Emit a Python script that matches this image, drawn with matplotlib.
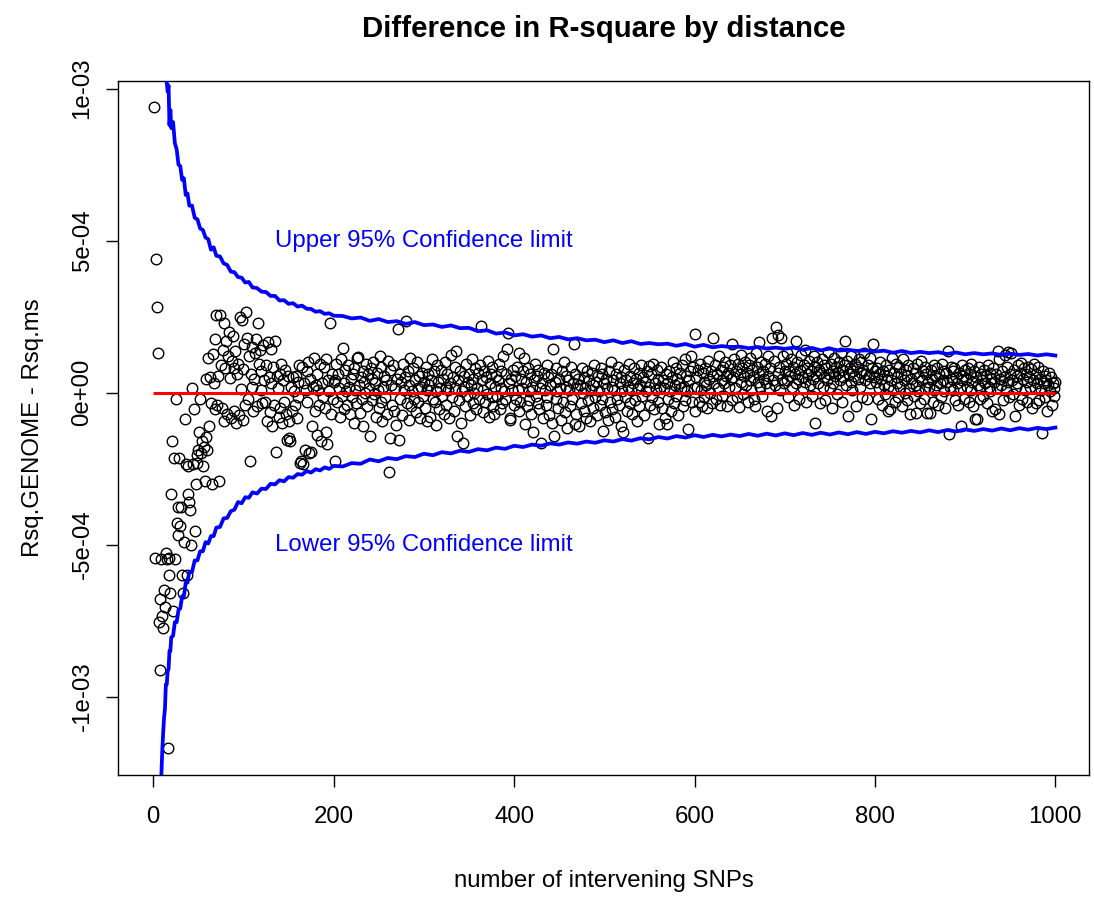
import numpy as np
import matplotlib
matplotlib.use("Agg")
import matplotlib.pyplot as plt

plt.rcParams['font.family'] = ['Liberation Sans', 'DejaVu Sans']

# difference in r-square (units of 1e-6), one value per distance 1..1000
rsq_diff = [
    940, -543, 440, 280, 130, -755, -912, -680, -548, -735,
    -775, -650, -705, -527, -548, -1170, -600, -543, -658, -335,
    -158, -720, -215, -548, -20, -430, -375, -468, -215, -440,
    -375, -600, -658, -490, -88, -235, -600, -335, -240, -360,
    -385, -500, 16, -235, -55, -455, -300, -205, -230, -190,
    -130, -22, -200, -160, -240, -180, -290, -145, 44, -190,
    115, -110, 50, -35, -300, 126, 30, 175, -55, 254,
    -40, 55, -290, 254, 90, -50, 140, -95, 230, 80,
    170, -70, 120, 200, 48, -85, 105, 185, -60, 80,
    137, -100, 60, 95, -75, 250, 12, 240, -90, 78,
    160, -40, 265, 180, -20, 120, -225, 60, 150, 20,
    -60, 45, 130, 175, -45, 230, 95, 140, 10, 70,
    -35, 155, 40, -30, 90, -95, 165, 50, -65, 145,
    30, -110, 85, -40, 170, -194, 55, 15, -80, 60,
    -50, 95, -100, 40, -30, 75, -70, -155, 55, -150,
    -95, -160, 20, -60, 50, 5, -40, 55, -85, 35,
    -15, 90, -230, -225, 85, -235, 30, -190, 10, 70,
    -30, 100, -200, 45, -195, -110, 20, 115, -60, 25,
    -140, 60, 10, -40, 95, -160, 30, -15, 85, -50,
    -130, 110, -170, 40, 5, 230, -70, 60, -20, 35,
    -225, 40, 95, -30, 60, 15, -80, 110, -10, 146,
    30, -55, 75, 5, -40, 90, 20, -70, 45, -15,
    60, -100, 80, 10, -35, 115, 118, 25, -66, 50,
    -20, 70, -110, 35, 0, 95, -45, 60, 15, -143,
    80, -25, 45, 100, -5, 30, -80, 65, 10, -50,
    120, -30, 85, -95, 20, 55, -15, 40, -70, 105,
    -260, 75, -150, 25, -40, 90, -60, 15, -105, 45,
    208, -155, 60, -20, 35, -75, 95, 10, 50, 236,
    -35, 70, -90, 25, 115, -45, 5, 80, -20, 40,
    -65, 100, 15, -30, 55, -85, 20, 65, -10, 35,
    -50, 85, 10, -95, 60, 25, -80, 40, 110, -20,
    70, -30, 5, -105, 90, 35, -55, 15, 75, -10,
    45, -70, 100, 20, -40, 60, 10, -85, 30, 125,
    -15, 50, -60, 85, 15, 137, -143, 40, -25, 70,
    -100, 5, -165, 55, 20, -45, 95, -10, 35, 60,
    -75, 25, 110, -35, 45, 0, 80, -55, 15, 65,
    -20, 90, 220, 40, -65, 10, 70, -30, 50, -5,
    105, -80, 30, 60, -15, 85, -45, -70, 20, 55,
    -10, 40, 95, -55, 15, 70, -35, 120, 5, -20,
    60, 142, 197, 30, -85, -90, 45, 10, 75, -40,
    55, -20, 85, 10, -60, 130, -30, 45, 15, 70,
    115, -104, 35, -45, 80, 5, -25, 60, -70, 20,
    -131, 40, 95, -10, 55, -35, 75, -55, 15, -165,
    30, -85, 65, 10, -40, 90, -15, 50, -75, 25,
    60, -100, 142, -143, 35, -20, 80, 5, -50, 45,
    15, -90, 70, -30, 100, -65, 20, 55, -115, 40,
    10, -45, 85, -20, 30, 159, -104, 60, -70, 15,
    45, -110, 25, -35, 80, 0, -60, 50, 15, -85,
    70, -25, 40, -95, 10, 65, -50, 25, 90, -15,
    35, -75, 55, 5, -40, 80, -20, 60, -126, 30,
    -65, 45, 15, -90, 70, -30, 100, 20, -55, 40,
    10, -80, 60, -20, 85, -40, 30, -110, 50, 5,
    -131, 75, -15, 40, -60, 20, 95, -35, 55, 10,
    -70, 30, 80, -25, 45, -95, 15, 65, -45, 25,
    90, -10, 50, -75, 35, 5, 70, -148, 88, 20,
    -40, 60, -15, 93, -55, 30, 10, 75, -30, 45,
    -104, 20, 85, -50, 40, 15, -85, 60, -104, 30,
    -20, 70, 5, -60, 50, 100, -35, 25, 80, -10,
    45, -75, 30, 65, 15, 90, -45, 20, 110, -25,
    55, 5, -120, 40, 70, 120, -30, 85, 15, 192,
    -60, 50, 20, 75, -30, 95, 10, -44, 65, 35,
    -15, 80, 25, -50, 105, 45, 0, 70, -35, 55,
    181, 30, 90, -20, 60, 15, 120, -40, 75, 40,
    -10, 85, 30, 100, 55, -44, 65, 20, 90, 45,
    -25, 159, 50, 110, 15, 70, -15, 95, -49, 60,
    35, 125, 80, -5, 55, 100, 25, 65, -30, 90,
    40, 115, 10, 75, 50, -20, -44, 130, 85, 35,
    60, 165, 20, 100, -10, 70, 45, 95, 30, -60,
    55, 120, 15, 80, -77, 180, 40, 105, 25, 215,
    -50, 190, 65, 85, 10, 180, 45, 120, 30, 70,
    95, 40, 130, -15, 70, 55, 110, 20, 85, -40,
    60, 170, 30, 100, 45, -20, 75, 125, 50, 15,
    90, 35, 140, -30, 80, 60, 105, 25, 70, -10,
    45, 120, 85, -99, 55, 100, 30, 75, -35, 65,
    110, 20, 90, 50, -25, 80, 40, 135, 60, 15,
    95, -50, 70, 30, 115, 55, 85, -5, 65, 100,
    40, 130, 75, -30, 50, 90, 170, 25, 105, -77,
    60, 80, 35, 120, 10, 70, 55, 95, -45, 85,
    45, 110, 20, 65, 100, -15, 75, 130, 40, 60,
    -20, 90, 55, 115, 30, -88, 80, 159, 50, 70,
    35, 80, -20, 60, 15, 100, 45, -40, 70, 25,
    -5, 90, 55, 20, -60, 75, -55, 40, 115, 10,
    65, -30, 95, 30, 50, -15, 85, 20, 60, -45,
    110, 40, 0, 75, -25, 55, 90, 15, -70, 45,
    30, 80, -10, 65, -66, 25, 95, 5, 50, -35,
    104, 40, 70, -20, 85, 15, 60, -66, 35, 20,
    -66, 75, 45, -30, 90, 10, 55, 25, 80, -40,
    60, 30, -15, 95, 40, 70, 5, -50, 65, 35,
    137, -137, 20, 85, 45, 10, 70, 82, -25, 50,
    30, -40, 65, 15, -110, 90, 40, 55, -20, 75,
    45, 20, 80, -30, 60, 10, 95, 35, -45, 70,
    -88, 50, -88, 25, 85, 15, -20, 60, 40, -10,
    75, 30, 55, -35, 90, 20, 65, 5, 45, -60,
    80, 35, -55, 60, 15, 137, -71, 110, 45, 25,
    70, -25, 50, 125, 10, 85, 35, 135, -15, 60,
    130, 40, -5, 75, -77, 20, 55, 30, 90, -40,
    65, 99, -20, 45, 80, 10, 60, 35, -30, 85,
    50, 20, 77, -50, 40, 95, 15, -35, 60, 30,
    85, -25, 45, 10, -132, 70, 30, 55, -15, 40,
    -60, 25, 65, 5, 50, -40, 30, 15, -10, 35,
]

# 95% confidence limits (units of 1e-6)
ci_dist = (list(range(1, 21)) + list(range(22, 41, 2)) + list(range(43, 71, 3))
           + list(range(74, 111, 4)) + list(range(115, 201, 5))
           + list(range(210, 1001, 10)))
ci_upper = [
    3000, 2400, 2050, 1850, 1700, 1560, 1480, 1380, 1300, 1240,
    1180, 1130, 1090, 1050, 1020, 990, 1010, 880, 930, 870,
    890, 820, 800, 750, 745, 700, 705, 650, 655, 615,
    615, 575, 570, 540, 535, 510, 505, 470, 478, 450,
    448, 425, 420, 398, 396, 380, 378, 362, 364, 346,
    344, 332, 331, 318, 318, 303, 304, 292, 294, 283,
    286, 276, 275, 266, 268, 259, 261, 253,
    252, 244, 247, 236, 242, 232, 235, 226, 232, 222,
    224, 216, 221, 212, 213, 202, 205, 194, 198, 188,
    192, 184, 188, 179, 183, 175, 179, 172, 174, 166,
    172, 163, 169, 160, 163, 159, 161, 154, 160, 151,
    157, 149, 153, 150, 151, 146, 150, 145, 148, 144,
    148, 141, 147, 139, 145, 138, 141, 137, 139, 135,
    138, 131, 137, 130, 134, 130, 133, 127, 132, 126,
    130, 126, 129, 124, 128, 124, 127, 122, 126, 122,
]
ci_lower = [
    -3500, -2800, -2300, -2000, -1750, -1550, -1420, -1320, -1260, -1180,
    -1120, -1070, -1040, -960, -960, -915, -910, -850, -850, -805,
    -800, -755, -755, -715, -710, -670, -670, -625, -625, -590,
    -590, -552, -552, -522, -522, -492, -496, -472, -472, -444,
    -442, -414, -412, -390, -385, -360, -364, -344, -346, -328,
    -332, -316, -317, -300, -302, -288, -292, -278, -280, -268,
    -270, -258, -263, -252, -256, -246, -251, -241,
    -243, -232, -234, -220, -226, -215, -219, -209, -212, -201,
    -206, -196, -200, -191, -195, -186, -190, -181, -185, -175,
    -179, -171, -175, -167, -171, -164, -168, -161, -165, -157,
    -161, -153, -158, -150, -154, -146, -151, -143, -148, -140,
    -146, -139, -144, -138, -143, -136, -142, -135, -141, -134,
    -140, -133, -139, -132, -138, -131, -137, -130, -136, -129,
    -134, -127, -132, -126, -131, -124, -130, -123, -128, -121,
    -126, -120, -125, -118, -124, -117, -122, -116, -120, -115,
]

scale = 1e-6
dist = np.arange(1, len(rsq_diff) + 1)
diff = np.array(rsq_diff) * scale
ci_x = np.array(ci_dist)
up = np.array(ci_upper) * scale
lo = np.array(ci_lower) * scale

fig = plt.figure(figsize=(10.94, 9.01), dpi=100)
ax = fig.add_axes([0.1079, 0.1398, 0.8873, 0.7703])

ax.plot(dist, diff, 'o', mfc='none', mec='black', ms=7.6, mew=1.0, zorder=2)
ax.plot(ci_x, up, color='#0000FF', lw=2.7, zorder=3)
ax.plot(ci_x, lo, color='#0000FF', lw=2.7, zorder=3)
ax.hlines(0, 0, dist[-1], color='#FF0000', lw=2.2, zorder=4)

fs = 17.3
ax.text(300, 5e-4, 'Upper 95% Confidence limit', color='#0000FF', fontsize=fs,
        ha='center', va='center')
ax.text(300, -5e-4, 'Lower 95% Confidence limit', color='#0000FF', fontsize=fs,
        ha='center', va='center')

ax.set_xlim(-39, 1037)
ax.set_ylim(-1.258e-3, 1.025e-3)
ax.set_xticks([0, 200, 400, 600, 800, 1000])
ax.set_yticks([-1e-3, -5e-4, 0, 5e-4, 1e-3])
ax.set_yticklabels(['-1e-03', '-5e-04', '0e+00', '5e-04', '1e-03'])
ax.tick_params(length=8.6, width=1.0, labelsize=fs, direction='out')
ax.tick_params(axis='x', pad=14)
ax.tick_params(axis='y', pad=9)
for lab in ax.get_yticklabels():
    lab.set_rotation(90)
    lab.set_va('center')
for sp in ax.spines.values():
    sp.set_linewidth(1.0)

ax.set_title('Difference in R-square by distance', fontsize=21.2, fontweight='bold', pad=32)
ax.set_xlabel('number of intervening SNPs', fontsize=fs, labelpad=30)
ax.set_ylabel('Rsq.GENOME - Rsq.ms', fontsize=fs, labelpad=20)

fig.savefig('out.png', dpi=100)
